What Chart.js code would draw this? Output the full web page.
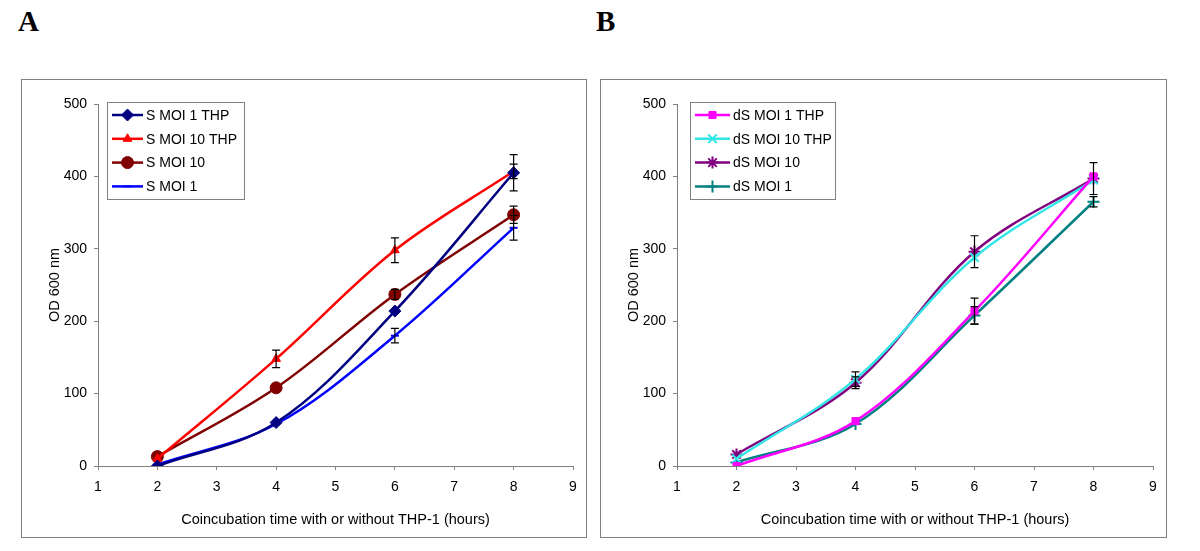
<!DOCTYPE html>
<html>
<head>
<meta charset="utf-8">
<script src="https://cdn.jsdelivr.net/npm/chart.js@4.4.0/dist/chart.umd.min.js"></script>
<style>
  body { margin: 0; background: #fff; width: 1200px; height: 551px; position: relative; overflow: hidden; }
  .tag { position: absolute; top: 5px; font-family: "Liberation Serif", "DejaVu Serif", serif; font-weight: bold; font-size: 29px; color: #000; }
  .box { position: absolute; top: 79px; border: 1px solid #808080; background: #fff; }
  .box canvas { display: block; }
</style>
</head>
<body>
<div class="tag" style="left:18px">A</div>
<div class="tag" style="left:596px">B</div>
<div class="box" style="left:21px; width:564px; height:457px"><canvas id="chartA" width="564" height="457"></canvas></div>
<div class="box" style="left:600px; width:565px; height:457px"><canvas id="chartB" width="565" height="457"></canvas></div>
<script>
// sampling times (hours)
const hours = [2, 4, 6, 8];

// panel A
const sMoi1Thp = [0, 60, 214, 405];
const sMoi1ThpErr = [0, 0, 0, 25];
const sMoi10Thp = [10, 148, 298, 407];
const sMoi10ThpErr = [0, 12, 17, 10];
const sMoi10 = [13, 108, 237, 347];
const sMoi10Err = [0, 0, 7, 12];
const sMoi1 = [2, 58, 180, 329];
const sMoi1Err = [0, 0, 10, 17];

// panel B
const dsMoi1Thp = [0, 62, 214, 400];
const dsMoi1ThpErr = [0, 0, 18, 0];
const dsMoi10Thp = [10, 120, 288, 395];
const dsMoi10ThpErr = [0, 10, 0, 0];
const dsMoi10 = [16, 115, 296, 397];
const dsMoi10Err = [0, 8, 22, 22];
const dsMoi1 = [5, 58, 208, 365];
const dsMoi1Err = [0, 0, 12, 7];

const xTicks = [1, 2, 3, 4, 5, 6, 7, 8, 9];
const yTicks = [0, 100, 200, 300, 400, 500];

const FONT = '"Liberation Sans", Arial, sans-serif';

function series(label, values, errs, color, style, radius) {
  return {
    label: label,
    data: hours.map((h, i) => ({ x: h, y: values[i] })),
    errs: errs,
    borderColor: color,
    backgroundColor: color,
    borderWidth: 2.5,
    pointStyle: style,
    pointRadius: radius,
    pointBorderWidth: style === 'crossRot' || style === 'cross' || style === 'star' || style === 'line' ? 2 : 1,
    pointBorderColor: color,
    pointBackgroundColor: color,
    tension: 0.35,
    fill: false
  };
}

// black error bars with caps
const errorBars = {
  id: 'errorBars',
  afterDatasetsDraw(chart) {
    const ctx = chart.ctx;
    const ys = chart.scales.y;
    ctx.save();
    ctx.strokeStyle = '#000';
    ctx.lineWidth = 1.2;
    chart.data.datasets.forEach((ds, di) => {
      const meta = chart.getDatasetMeta(di);
      meta.data.forEach((pt, i) => {
        const e = ds.errs[i];
        if (!e) return;
        const v = ds.data[i].y;
        const top = ys.getPixelForValue(v + e);
        const bot = ys.getPixelForValue(v - e);
        const x = pt.x;
        ctx.beginPath();
        ctx.moveTo(x, top); ctx.lineTo(x, bot);
        ctx.moveTo(x - 4, top); ctx.lineTo(x + 4, top);
        ctx.moveTo(x - 4, bot); ctx.lineTo(x + 4, bot);
        ctx.stroke();
      });
    });
    ctx.restore();
  }
};

// legend box inside the plot area, Excel style
const boxLegend = {
  id: 'boxLegend',
  afterDraw(chart, args, opts) {
    const ctx = chart.ctx;
    const left = chart.chartArea.left + opts.dx;
    const top = opts.top;
    const w = opts.width, h = opts.height;
    ctx.save();
    ctx.fillStyle = '#fff';
    ctx.fillRect(left, top, w, h);
    ctx.strokeStyle = '#808080';
    ctx.lineWidth = 1;
    ctx.strokeRect(left + 0.5, top + 0.5, w, h);
    ctx.font = '14px ' + FONT;
    ctx.textBaseline = 'middle';
    chart.data.datasets.forEach((ds, i) => {
      const y = top + 13 + i * 23.8;
      const x0 = left + 5, x1 = left + opts.lineLen;
      ctx.strokeStyle = ds.borderColor;
      ctx.lineWidth = 2.5;
      ctx.beginPath();
      ctx.moveTo(x0, y); ctx.lineTo(x1, y);
      ctx.stroke();
      ctx.fillStyle = ds.borderColor;
      ctx.lineWidth = ds.pointBorderWidth;
      if (Chart.helpers && Chart.helpers.drawPoint) {
        Chart.helpers.drawPoint(ctx, { pointStyle: ds.pointStyle, radius: ds.pointRadius, rotation: 0, borderWidth: ds.pointBorderWidth }, (x0 + x1) / 2, y);
      }
      ctx.fillStyle = '#000';
      ctx.fillText(ds.label, x1 + 3, y + 1);
    });
    ctx.restore();
  }
};

function makeChart(id, datasets, legend) {
  return new Chart(document.getElementById(id), {
    type: 'line',
    data: { datasets: datasets },
    plugins: [errorBars, boxLegend],
    options: {
      responsive: false,
      animation: false,
      layout: { padding: { left: 0, top: 24, right: 13, bottom: 0 } },
      plugins: {
        legend: { display: false },
        tooltip: { enabled: false },
        boxLegend: legend
      },
      scales: {
        x: {
          type: 'linear',
          min: 1, max: 9,
          afterFit: s => { s.height = 71; },
          afterBuildTicks: s => { s.ticks = xTicks.map(v => ({ value: v })); },
          ticks: { color: '#000', font: { family: FONT, size: 14 }, padding: 9 },
          grid: { drawOnChartArea: false, drawTicks: true, tickLength: 4, color: '#808080' },
          border: { color: '#808080', width: 1 },
          title: { display: true, text: 'Coincubation time with or without THP-1 (hours)', color: '#000', font: { family: FONT, size: 14.5 }, padding: { top: 0, bottom: 8 } }
        },
        y: {
          min: 0, max: 500,
          afterFit: s => { s.width = legend.yw; },
          afterBuildTicks: s => { s.ticks = yTicks.map(v => ({ value: v })); },
          ticks: { color: '#000', font: { family: FONT, size: 14 }, padding: 7 },
          grid: { drawOnChartArea: false, drawTicks: true, tickLength: 4, color: '#808080' },
          border: { color: '#808080', width: 1 },
          title: { display: true, text: 'OD 600 nm', color: '#000', font: { family: FONT, size: 14.5 }, padding: { top: 24, bottom: 0 } }
        }
      }
    }
  });
}

makeChart('chartA', [
  series('S MOI 1 THP', sMoi1Thp, sMoi1ThpErr, '#000080', 'rectRot', 6),
  series('S MOI 10 THP', sMoi10Thp, sMoi10ThpErr, '#FF0000', 'triangle', 5),
  series('S MOI 10', sMoi10, sMoi10Err, '#800000', 'circle', 6),
  series('S MOI 1', sMoi1, sMoi1Err, '#0000FF', 'line', 4)
], { dx: 9, top: 22, width: 137, height: 97, lineLen: 36, yw: 76 });

makeChart('chartB', [
  series('dS MOI 1 THP', dsMoi1Thp, dsMoi1ThpErr, '#FF00FF', 'rect', 5),
  series('dS MOI 10 THP', dsMoi10Thp, dsMoi10ThpErr, '#33E6E6', 'crossRot', 6),
  series('dS MOI 10', dsMoi10, dsMoi10Err, '#800080', 'star', 6),
  series('dS MOI 1', dsMoi1, dsMoi1Err, '#008080', 'cross', 6)
], { dx: 13, top: 22, width: 145, height: 97, lineLen: 40, yw: 76 });
</script>
</body>
</html>
